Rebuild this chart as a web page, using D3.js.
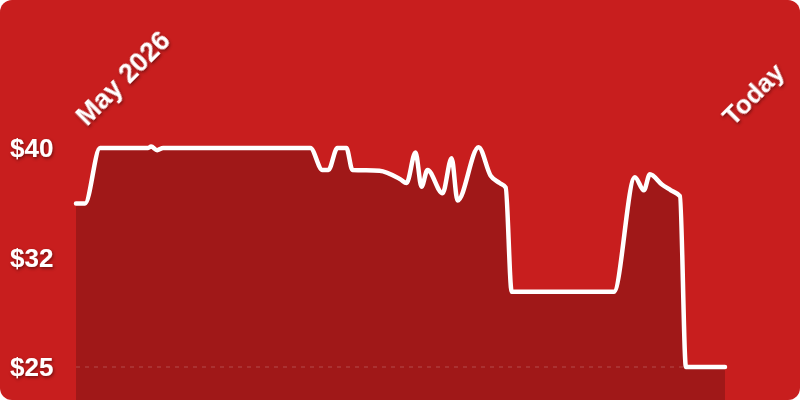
<!DOCTYPE html>
<html>
<head>
<meta charset="utf-8">
<script src="https://cdn.jsdelivr.net/npm/d3@7"></script>
<style>
  html, body { margin: 0; padding: 0; background: #fff; }
  svg { display: block; }
</style>
</head>
<body>
<script>
const width = 800;
const height = 400;

// day offsets from the first day, and the price on that day
const days = [0, 3, 8, 24, 25, 27, 29, 58, 78, 82, 84, 87, 90, 92, 101, 108, 110, 113, 115, 117, 122, 125, 127, 134, 138, 141, 143, 145, 179, 186, 189, 191, 195, 198, 201, 203, 216];
const prices = [36.2, 36.2, 40.0, 40.0, 40.1, 39.85, 40.0, 40.0, 40.0, 38.5, 38.5, 40.0, 40.0, 38.5, 38.45, 37.85, 37.6, 39.7, 37.35, 38.5, 36.9, 39.3, 36.4, 40.05, 38.1, 37.6, 37.3, 30.15, 30.15, 38.0, 37.1, 38.2, 37.5, 37.1, 36.7, 25.0, 25.0];

const tickValues = [25, 32.5, 40];
const tickLabels = ['$25', '$32', '$40'];
const startLabel = 'May 2026';
const endLabel = 'Today';

const data = days.map((d, i) => ({ day: d, price: prices[i] }));

const x = d3.scaleLinear().domain([0, 216]).range([76, 725]);
const y = d3.scaleLinear().domain([25, 40]).range([367, 148]);

const svg = d3
.create('svg')
.attr('viewBox', [0, 0, width, height])
.attr('width', width)
.attr('height', height);

const defs = svg.append('defs');
defs.append('filter')
.attr('id', 'shadow')
.attr('x', '-20%').attr('y', '-20%')
.attr('width', '140%').attr('height', '140%')
.append('feDropShadow')
.attr('dx', 1).attr('dy', 1.5)
.attr('stdDeviation', 1.5)
.attr('flood-color', '#000')
.attr('flood-opacity', 0.45);

defs.append('clipPath')
.attr('id', 'card')
.append('rect')
.attr('width', width).attr('height', height)
.attr('rx', 12);

const card = svg.append('g').attr('clip-path', 'url(#card)');

card.append('rect')
.attr('width', width)
.attr('height', height)
.attr('fill', '#c81e1e');

const area = d3.area()
.x(d => x(d.day))
.y0(height)
.y1(d => y(d.price))
.curve(d3.curveMonotoneX);

const line = d3.line()
.x(d => x(d.day))
.y(d => y(d.price))
.curve(d3.curveMonotoneX);

card.append('path')
.attr('fill', '#a01818')
.attr('d', area(data));

// dashed line at the lowest tick
card.append('line')
.attr('x1', x(0)).attr('x2', x(216))
.attr('y1', y(25)).attr('y2', y(25))
.attr('stroke', 'rgba(255,255,255,0.15)')
.attr('stroke-width', 1.5)
.attr('stroke-dasharray', '4,5');

card.append('path')
.attr('fill', 'none')
.attr('stroke', '#fff')
.attr('stroke-width', 4.5)
.attr('stroke-linejoin', 'round')
.attr('stroke-linecap', 'round')
.attr('d', line(data));

const labels = card.append('g')
.attr('font-family', 'Liberation Sans, Arial, sans-serif')
.attr('font-weight', 'bold')
.attr('font-size', 26)
.attr('fill', '#fff')
.attr('filter', 'url(#shadow)');

labels.selectAll('text.tick')
.data(tickValues)
.join('text')
.attr('class', 'tick')
.attr('x', 10)
.attr('y', d => y(d))
.attr('dy', '0.35em')
.text((d, i) => tickLabels[i]);

labels.append('text')
.attr('font-size', 27)
.attr('transform', `translate(${x(0) + 11},127) rotate(-45)`)
.text(startLabel);

labels.append('text')
.attr('text-anchor', 'end')
.attr('transform', `translate(786,74) rotate(-45)`)
.text(endLabel);

document.body.appendChild(svg.node());
</script>
</body>
</html>
